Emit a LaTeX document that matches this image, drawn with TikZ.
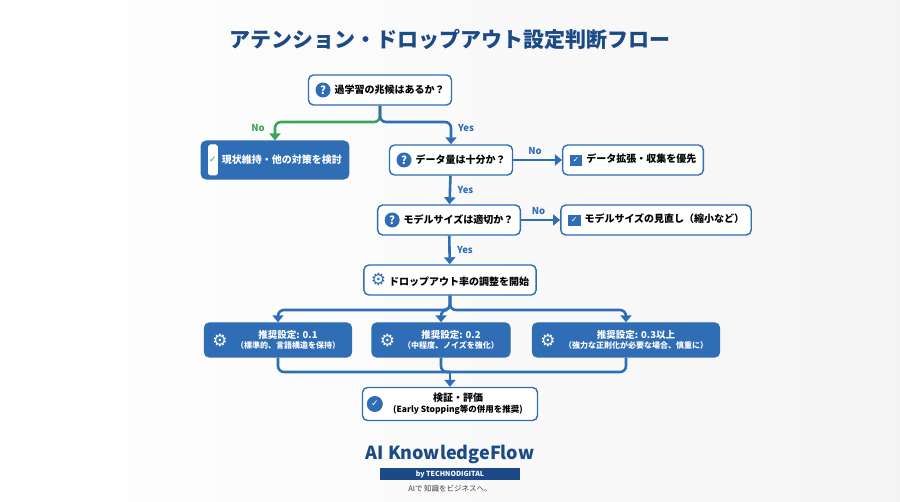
\documentclass[tikz,border=0pt]{standalone}
\usepackage{fontspec}
\setmainfont{Noto Sans CJK JP}
\newfontfamily\symfont{DejaVu Sans}
\usetikzlibrary{positioning,arrows.meta}
\definecolor{navy}{HTML}{1B4A86}
\definecolor{flowblue}{HTML}{2F6DB5}
\definecolor{okgreen}{HTML}{3BA55C}
\begin{document}
\begin{tikzpicture}[x=1pt,y=-1pt,
    box/.style={draw=flowblue, line width=1.4pt, rounded corners=5pt, fill=white,
      minimum height=30pt, inner xsep=7pt, font=\fontsize{10}{12}\selectfont\bfseries},
    solid/.style={box, fill=flowblue, text=white, minimum height=34pt, align=center},
    link/.style={draw=flowblue, line width=2.6pt, rounded corners=6pt, -{Triangle[length=7pt,width=11pt]}},
    lbl/.style={font=\fontsize{9.5}{11}\selectfont\bfseries, text=flowblue},
    ask/.style={circle, fill=flowblue, text=white, inner sep=0pt, minimum size=15pt,
      font=\fontsize{11}{11}\selectfont\bfseries},
    ]
    \shade[left color=white, right color=blue!4!gray!8] (0,0) rectangle (900,502);
    \useasboundingbox (0,0) rectangle (900,502);
    \newcommand{\qmark}{\tikz[baseline=-3.5pt]\node[ask]{?};\hspace{4pt}}
    \newcommand{\tick}[1]{\tikz[baseline=-3.5pt]\node[draw=#1, fill=white, line width=1pt, rounded corners=1.5pt, inner sep=0.5pt,
       text=okgreen, font=\symfont\fontsize{9}{9}\selectfont\bfseries]{✓};\hspace{4pt}}
    \newcommand{\gear}{{\symfont\fontsize{17}{17}\selectfont ⚙}}

    \node[font=\fontsize{21}{24}\selectfont\bfseries, text=navy] (title) at (450,40) {アテンション・ドロップアウト設定判断フロー};

    % questions
    \node[box] (q1) at (380,90) {\qmark 過学習の兆候はあるか？};
    \node[box] (q2) at (451,160) {\qmark データ量は十分か？};
    \node[box] (q3) at (449,220) {\qmark モデルサイズは適切か？};
    \node[box] (start) at (450,280) {\textcolor{flowblue}{\gear}\hspace{3pt}ドロップアウト率の調整を開始};

    % outcomes
    \node[box, fill=flowblue, text=white, minimum height=30pt] (keep) at (275,160) {\tick{white}現状維持・他の対策を検討};
    \node[box] (data) at (633,160) {\colorbox{flowblue}{\textcolor{white}{\symfont\fontsize{8}{8}\selectfont ✓}}\hspace{4pt}データ拡張・収集を優先};
    \node[box] (size) at (656,220) {\colorbox{flowblue}{\textcolor{white}{\symfont\fontsize{8}{8}\selectfont ✓}}\hspace{4pt}モデルサイズの見直し（縮小など）};

    % recommended rates
    \node[solid, minimum width=147pt] (r1) at (278,340) {};
    \node[solid, minimum width=138pt] (r2) at (441,340) {};
    \node[solid, minimum width=187pt] (r3) at (626,340) {};
    \foreach \n/\rate/\note in {r1/0.1/（標準的、言語構造を保持）, r2/0.2/（中程度、ノイズを強化）,
        r3/0.3以上/（強力な正則化が必要な場合、慎重に）}{
      \node[text=white, anchor=west] at ([xshift=5pt]\n.west) {\gear};
      \node[text=white, align=center, font=\fontsize{9.5}{10.5}\selectfont\bfseries] at ([xshift=10pt]\n.center)
        {推奨設定: \rate\\[-1pt]{\fontsize{8}{10}\selectfont\note}};
    }

    \node[box, minimum width=175pt, minimum height=33pt, align=center] (eval) at (450,404)
      {\hspace{16pt}検証・評価\\[-1pt]\hspace{16pt}{\fontsize{8.5}{10}\selectfont (Early Stopping等の併用を推奨)}};
    \node[circle, fill=flowblue, minimum size=16pt, inner sep=0pt, text=white,
      font=\symfont\fontsize{9}{9}\selectfont\bfseries] at ([xshift=13pt]eval.west) {✓};

    % connectors
    \coordinate (split) at (380,122);
    \draw[link, draw=okgreen] (q1.south) |- (split) -| (keep.north);
    \draw[link] (q1.south) |- (split) -| (q2.north);
    \node[lbl, text=okgreen] at (258,128) {No};
    \node[lbl] at (466,128) {Yes};
    \draw[link] (q2) -- node[lbl, above=1pt, pos=0.45] {No} (data);
    \draw[link] (q3) -- node[lbl, above=1pt, pos=0.45] {No} (size);
    \draw[link] (q2) -- node[lbl, right=3pt] {Yes} (q3);
    \draw[link] (q3) -- node[lbl, right=3pt] {Yes} (start);

    \coordinate (fan) at (450,310);
    \coordinate (join) at (450,372);
    \foreach \n in {r1,r2,r3}{
      \draw[link] (start.south) |- (fan) -| (\n.north);
      \draw[link, -] (\n.south) |- (join);
    }
    \draw[link] (join) -- (eval.north);

    % logo
    \node[font=\fontsize{18}{20}\selectfont\bfseries, text=navy] (brand) at (450,454) {AI KnowledgeFlow};
    \node[fill=navy, text=white, minimum width=140pt, minimum height=12pt, inner sep=0pt,
      font=\fontsize{7}{8}\selectfont\bfseries, below=1pt of brand] (by) {by TECHNODIGITAL};
    \node[font=\fontsize{7.5}{9}\selectfont, text=black!75, below=1pt of by] (tag) {AIで 知識をビジネスへ。};
\end{tikzpicture}
\end{document}
